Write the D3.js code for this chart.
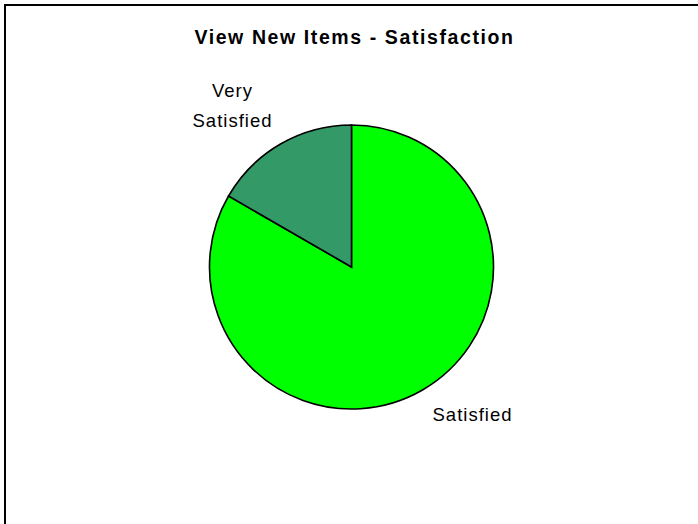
<!DOCTYPE html>
<html>
<head>
<meta charset="utf-8">
<script src="https://cdn.jsdelivr.net/npm/d3@7/dist/d3.min.js"></script>
<style>
  html, body { margin: 0; padding: 0; background: #fff; }
  svg { display: block; }
</style>
</head>
<body>
<svg id="chart" width="698" height="524"></svg>
<script>
// Survey responses for "View New Items"
const categories = ["Satisfied", "Very Satisfied"];
const counts = [5, 1];
const sliceColors = ["#00FF00", "#339966"];
const chartTitle = "View New Items - Satisfaction";

const svg = d3.select("#chart");

// Chart frame (runs off the right and bottom edges)
svg.append("rect")
  .attr("x", 5).attr("y", 5)
  .attr("width", 800).attr("height", 800)
  .attr("fill", "#fff")
  .attr("stroke", "#000")
  .attr("stroke-width", 2);

// Title
svg.append("text")
  .attr("x", 354.5).attr("y", 44)
  .attr("text-anchor", "middle")
  .style("font-family", "'Liberation Sans', Arial, sans-serif")
  .style("font-weight", "bold")
  .style("font-size", "19.5px")
  .style("letter-spacing", "1.6px")
  .text(chartTitle);

const cx = 351.5, cy = 267, r = 142;
const data = categories.map((c, i) => ({ name: c, value: counts[i], color: sliceColors[i] }));

const pie = d3.pie().value(d => d.value).sort(null);
const arc = d3.arc().innerRadius(0).outerRadius(r);
const arcs = pie(data);

const g = svg.append("g").attr("transform", `translate(${cx},${cy})`);
g.selectAll("path")
  .data(arcs)
  .join("path")
  .attr("d", arc)
  .attr("fill", d => d.data.color)
  .attr("stroke", "#000")
  .attr("stroke-width", 1.6)
  .attr("stroke-linejoin", "miter");

// Category labels placed outside their slices
const labelStyle = sel => sel
  .attr("text-anchor", "middle")
  .style("font-family", "'Liberation Sans', Arial, sans-serif")
  .style("font-size", "18.5px")
  .style("letter-spacing", "1px")
  .attr("fill", "#000");

// "Satisfied" label below right
svg.append("text")
  .call(labelStyle)
  .attr("x", 472.5).attr("y", 421)
  .text(categories[0]);

// "Very Satisfied" label above left, on two lines
const vs = svg.append("text").call(labelStyle)
  .attr("x", 232.5).attr("y", 97);
categories[1].split(" ").forEach((w, i) => {
  vs.append("tspan").attr("x", 232.5).attr("dy", i === 0 ? 0 : 29.7).text(w);
});
</script>
</body>
</html>
